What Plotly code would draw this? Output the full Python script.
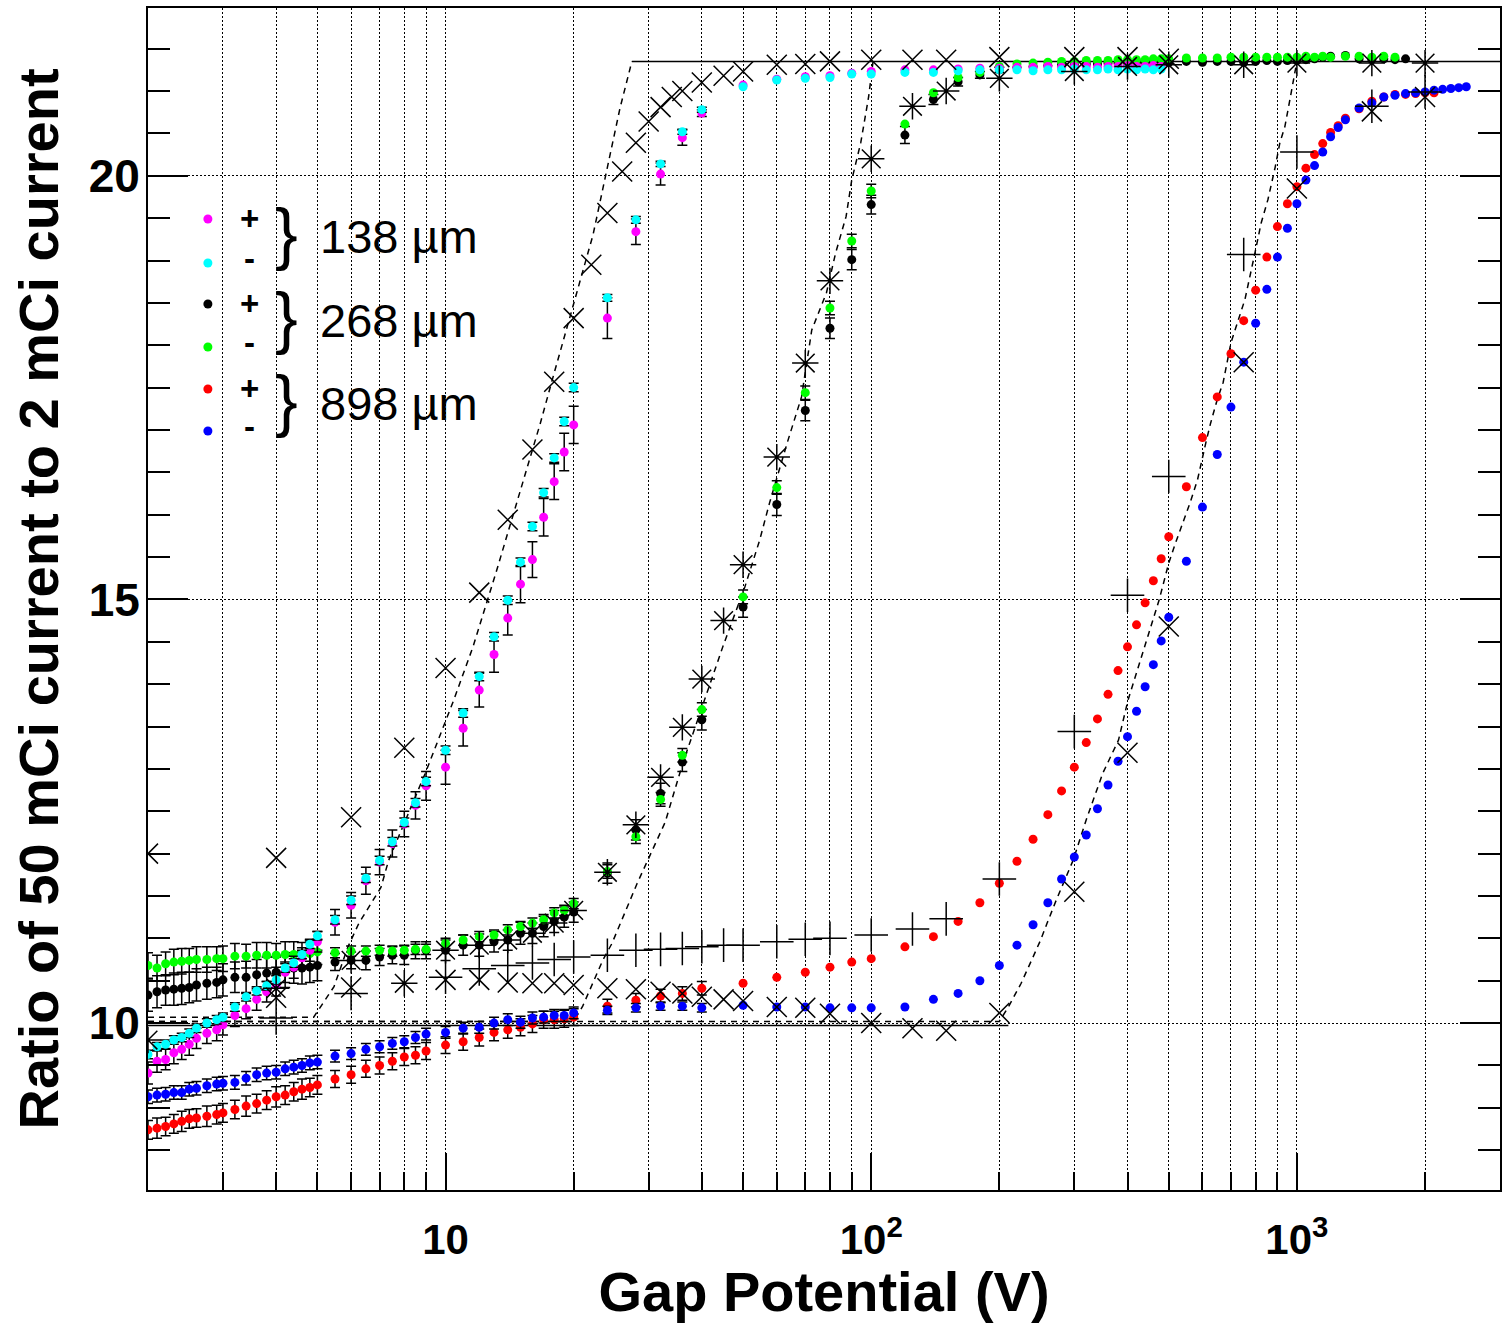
import math
import plotly.graph_objects as go

FONT = "Liberation Sans, Arial, sans-serif"

# ---------------- measured data ----------------
# 138 um gap (magenta = +, cyan = -)
V_138 = [2.0, 2.1, 2.2, 2.3, 2.4, 2.5, 2.6, 2.75, 2.9, 3.0,
         3.2, 3.4, 3.6, 3.8, 4.0, 4.2, 4.4, 4.6, 4.8, 5.0,
         5.5, 6.0, 6.5, 7.0, 7.5, 8.0, 8.5, 9.0,
         10, 11, 12, 13, 14, 15, 16, 17, 18, 19, 20,
         24, 28, 32, 36, 40,
         50, 60, 70, 80, 90, 100,
         120, 140, 160, 180, 200,
         220, 240, 260, 280, 300, 320, 340, 360, 380, 400, 420, 440, 460, 480]
MAG_138_PLUS = [9.41, 9.55, 9.57, 9.65, 9.69, 9.75, 9.82, 9.88, 9.92, 9.98,
                10.09, 10.17, 10.28, 10.37, 10.45, 10.60, 10.66, 10.77, 10.86, 10.96,
                11.19, 11.39, 11.68, 11.90, 12.12, 12.35, 12.57, 12.80,
                13.02, 13.48, 13.93, 14.35, 14.78, 15.18, 15.47, 15.97, 16.39, 16.74, 17.06,
                18.32, 19.34, 20.02, 20.45, 20.74,
                21.07, 21.14, 21.17, 21.18, 21.21, 21.23,
                21.25, 21.25, 21.26, 21.27, 21.27,
                21.28, 21.28, 21.29, 21.28, 21.29, 21.29, 21.28, 21.29, 21.29, 21.30, 21.29, 21.29, 21.30, 21.29]
MAG_138_PLUS_ERR = [0.13, 0.13, 0.12, 0.13, 0.12, 0.13, 0.12, 0.12, 0.13, 0.12,
                    0.13, 0.12, 0.13, 0.12, 0.13, 0.12, 0.13, 0.12, 0.13, 0.12,
                    0.15, 0.15, 0.16, 0.15, 0.16, 0.15, 0.16, 0.17,
                    0.20, 0.21, 0.20, 0.21, 0.20, 0.22, 0.21, 0.22, 0.21, 0.22, 0.22,
                    0.24, 0.15, 0.13, 0.09, 0.04]
CYA_138_MINUS = [9.63, 9.72, 9.75, 9.80, 9.83, 9.88, 9.94, 10.00, 10.04, 10.07,
                 10.19, 10.31, 10.38, 10.44, 10.51, 10.65, 10.71, 10.81, 10.93, 11.03,
                 11.22, 11.45, 11.71, 11.92, 12.14, 12.37, 12.60, 12.85,
                 13.22, 13.66, 14.09, 14.56, 14.99, 15.44, 15.86, 16.26, 16.67, 17.10, 17.50,
                 18.56, 19.48, 20.14, 20.52, 20.78,
                 21.05, 21.13, 21.15, 21.16, 21.20, 21.20,
                 21.22, 21.22, 21.24, 21.25, 21.25,
                 21.25, 21.24, 21.25, 21.25, 21.26, 21.25, 21.25, 21.26, 21.25, 21.26, 21.25, 21.26, 21.25, 21.26]
CYA_138_MINUS_ERR = [0.05, 0.05, 0.05, 0.05, 0.05, 0.05, 0.05, 0.05, 0.05, 0.05,
                     0.05, 0.05, 0.05, 0.05, 0.05, 0.05, 0.05, 0.05, 0.05, 0.05,
                     0.05, 0.05, 0.05, 0.05, 0.05, 0.05, 0.05, 0.05,
                     0.05, 0.05, 0.05, 0.05, 0.05, 0.05, 0.05, 0.05, 0.05, 0.05, 0.05,
                     0.04, 0.04, 0.03, 0.03, 0.03]

# 268 um gap (black = +, green = -)
V_268_PLUS = [2.0, 2.1, 2.2, 2.3, 2.4, 2.5, 2.6, 2.75, 2.9, 3.0,
              3.2, 3.4, 3.6, 3.8, 4.0, 4.2, 4.4, 4.6, 4.8, 5.0,
              5.5, 6.0, 6.5, 7.0, 7.5, 8.0, 8.5, 9.0,
              10, 11, 12, 13, 14, 15, 16, 17, 18, 19, 20,
              24, 28, 32, 36, 40,
              50, 60, 70, 80, 90, 100,
              120, 140, 160, 180, 200,
              220, 240, 260, 280, 300, 320, 340, 360, 380, 400, 420, 440, 460, 480,
              500, 550, 600, 650, 700, 750, 800, 850, 900, 950, 1000,
              1050, 1100, 1150, 1200, 1300, 1400, 1500, 1600, 1700, 1800]
BLK_268_PLUS = [10.33, 10.37, 10.39, 10.40, 10.41, 10.42, 10.45, 10.47, 10.48, 10.51,
                10.54, 10.54, 10.57, 10.59, 10.60, 10.61, 10.65, 10.65, 10.66, 10.68,
                10.72, 10.74, 10.74, 10.78, 10.80, 10.80, 10.86, 10.86,
                10.86, 10.92, 10.92, 10.96, 10.98, 11.06, 11.06, 11.14, 11.20, 11.25, 11.31,
                11.77, 12.28, 12.71, 13.08, 13.58,
                14.91, 16.12, 17.23, 18.20, 19.01, 19.66,
                20.48, 20.90, 21.11, 21.19, 21.25,
                21.28, 21.29, 21.30, 21.31, 21.31, 21.32, 21.32, 21.33, 21.33, 21.33, 21.34, 21.34, 21.34, 21.34,
                21.34, 21.35, 21.34, 21.35, 21.35, 21.34, 21.35, 21.36, 21.35, 21.36, 21.36,
                21.37, 21.38, 21.40, 21.41, 21.42, 21.38, 21.37, 21.38, 21.37, 21.38]
BLK_268_PLUS_ERR = [0.19, 0.19, 0.18, 0.19, 0.19, 0.18, 0.19, 0.19, 0.18, 0.19,
                    0.18, 0.19, 0.18, 0.19, 0.18, 0.19, 0.18, 0.19, 0.18, 0.18,
                    0.10, 0.10, 0.11, 0.10, 0.10, 0.11, 0.10, 0.10,
                    0.12, 0.12, 0.13, 0.12, 0.12, 0.13, 0.12, 0.12, 0.13, 0.12, 0.12,
                    0.12, 0.12, 0.12, 0.11, 0.12,
                    0.12, 0.13, 0.12, 0.12, 0.12, 0.11,
                    0.10, 0.06, 0.05, 0.04, 0.03]
V_268_MINUS = [2.0, 2.1, 2.2, 2.3, 2.4, 2.5, 2.6, 2.75, 2.9, 3.0,
               3.2, 3.4, 3.6, 3.8, 4.0, 4.2, 4.4, 4.6, 4.8, 5.0,
               5.5, 6.0, 6.5, 7.0, 7.5, 8.0, 8.5, 9.0,
               10, 11, 12, 13, 14, 15, 16, 17, 18, 19, 20,
               24, 28, 32, 36, 40,
               50, 60, 70, 80, 90, 100,
               120, 140, 160, 180, 200,
               220, 240, 260, 280, 300, 320, 340, 360, 380, 400, 420, 440, 460, 480,
               500, 550, 600, 650, 700, 750, 800, 850, 900, 950, 1000,
               1050, 1100, 1150, 1200, 1300, 1400, 1500, 1600, 1700]
GRN_268_MINUS = [10.68, 10.65, 10.70, 10.72, 10.73, 10.74, 10.75, 10.75, 10.76, 10.76,
                 10.79, 10.79, 10.80, 10.80, 10.80, 10.81, 10.81, 10.81, 10.82, 10.84,
                 10.83, 10.85, 10.85, 10.86, 10.85, 10.86, 10.87, 10.87,
                 10.94, 10.98, 11.02, 11.04, 11.10, 11.14, 11.18, 11.22, 11.30, 11.33, 11.41,
                 11.79, 12.20, 12.64, 13.16, 13.70,
                 15.03, 16.32, 17.44, 18.44, 19.23, 19.82,
                 20.61, 20.98, 21.16, 21.22, 21.29,
                 21.32, 21.33, 21.34, 21.35, 21.35, 21.36, 21.36, 21.36, 21.37, 21.37, 21.37, 21.37, 21.38, 21.38,
                 21.38, 21.39, 21.39, 21.39, 21.40, 21.40, 21.40, 21.40, 21.40, 21.40, 21.40,
                 21.41, 21.40, 21.41, 21.40, 21.41, 21.41, 21.40, 21.41, 21.40]
GRN_268_MINUS_ERR = [0.15, 0.15, 0.14, 0.15, 0.15, 0.14, 0.15, 0.15, 0.14, 0.15,
                     0.15, 0.14, 0.15, 0.15, 0.14, 0.15, 0.15, 0.14, 0.15, 0.15,
                     0.06, 0.06, 0.06, 0.06, 0.06, 0.06, 0.06, 0.06,
                     0.06, 0.06, 0.06, 0.06, 0.06, 0.06, 0.06, 0.06, 0.06, 0.06, 0.06,
                     0.08, 0.08, 0.08, 0.08, 0.08,
                     0.08, 0.08, 0.08, 0.08, 0.08, 0.08]

# 898 um gap (red = +, blue = -)
V_898_PLUS = [2.0, 2.1, 2.2, 2.3, 2.4, 2.5, 2.6, 2.75, 2.9, 3.0,
              3.2, 3.4, 3.6, 3.8, 4.0, 4.2, 4.4, 4.6, 4.8, 5.0,
              5.5, 6.0, 6.5, 7.0, 7.5, 8.0, 8.5, 9.0,
              10, 11, 12, 13, 14, 15, 16, 17, 18, 19, 20,
              24, 28, 32, 36, 40,
              50, 60, 70, 80, 90, 100,
              120, 140, 160, 180, 200,
              220, 240, 260, 280, 300, 320, 340, 360, 380, 400, 420, 440, 460, 480, 500,
              550, 600, 650, 700, 750, 800, 850, 900, 950, 1000,
              1050, 1100, 1150, 1200, 1250, 1300,
              1400, 1500, 1600, 1700, 1800, 1900, 2000, 2100]
RED_898_PLUS = [8.74, 8.76, 8.78, 8.81, 8.84, 8.87, 8.88, 8.90, 8.92, 8.94,
                8.98, 9.02, 9.05, 9.09, 9.13, 9.15, 9.19, 9.22, 9.24, 9.27,
                9.34, 9.39, 9.46, 9.50, 9.55, 9.60, 9.62, 9.67,
                9.74, 9.78, 9.83, 9.89, 9.92, 9.95, 9.99, 10.04, 10.04, 10.05, 10.07,
                10.20, 10.27, 10.32, 10.35, 10.41,
                10.47, 10.54, 10.60, 10.66, 10.72, 10.76,
                10.90, 11.02, 11.20, 11.42, 11.65,
                11.91, 12.17, 12.46, 12.74, 13.02, 13.31, 13.59, 13.88, 14.16, 14.44, 14.70, 14.96, 15.22, 15.48, 15.74,
                16.33, 16.91, 17.39, 17.90, 18.29, 18.65, 19.04, 19.40, 19.67, 19.87,
                20.09, 20.25, 20.38, 20.51, 20.59, 20.68,
                20.79, 20.88, 20.93, 20.96, 20.96, 20.97, 20.98, 20.98]
RED_898_PLUS_ERR = [0.11, 0.12, 0.11, 0.11, 0.12, 0.11, 0.11, 0.12, 0.11, 0.11,
                    0.11, 0.12, 0.11, 0.11, 0.12, 0.11, 0.11, 0.12, 0.11, 0.11,
                    0.10, 0.10, 0.10, 0.10, 0.10, 0.10, 0.10, 0.10,
                    0.10, 0.10, 0.10, 0.10, 0.10, 0.10, 0.10, 0.10, 0.10, 0.10, 0.10,
                    0.08, 0.08, 0.08, 0.08, 0.08]
V_898_MINUS = [2.0, 2.1, 2.2, 2.3, 2.4, 2.5, 2.6, 2.75, 2.9, 3.0,
               3.2, 3.4, 3.6, 3.8, 4.0, 4.2, 4.4, 4.6, 4.8, 5.0,
               5.5, 6.0, 6.5, 7.0, 7.5, 8.0, 8.5, 9.0,
               10, 11, 12, 13, 14, 15, 16, 17, 18, 19, 20,
               24, 28, 32, 36, 40,
               50, 60, 70, 80, 90, 100,
               120, 140, 160, 180, 200,
               220, 240, 260, 280, 300, 320, 340, 360, 380, 400, 420, 440, 460, 480, 500,
               550, 600, 650, 700, 750, 800, 850, 900, 950, 1000,
               1050, 1100, 1150, 1200, 1250, 1300,
               1400, 1500, 1600, 1700, 1800, 1900, 2000, 2100, 2200, 2300, 2400, 2500]
BLU_898_MINUS = [9.13, 9.15, 9.16, 9.18, 9.18, 9.22, 9.23, 9.26, 9.28, 9.29,
                 9.30, 9.35, 9.39, 9.41, 9.42, 9.46, 9.48, 9.50, 9.53, 9.54,
                 9.61, 9.64, 9.69, 9.72, 9.76, 9.78, 9.83, 9.87,
                 9.89, 9.94, 9.95, 10.00, 10.04, 10.01, 10.06, 10.07, 10.09, 10.09, 10.12,
                 10.15, 10.18, 10.20, 10.20, 10.18,
                 10.21, 10.19, 10.19, 10.18, 10.18, 10.18,
                 10.19, 10.28, 10.35, 10.50, 10.68,
                 10.92, 11.16, 11.42, 11.70, 11.96, 12.22, 12.53, 12.81, 13.09, 13.38, 13.68, 13.97, 14.23, 14.51, 14.79,
                 15.45, 16.09, 16.71, 17.27, 17.80, 18.26, 18.66, 19.04, 19.38, 19.67,
                 19.95, 20.12, 20.28, 20.46, 20.57, 20.66,
                 20.80, 20.86, 20.93, 20.95, 20.97, 20.98, 20.99, 21.01, 21.02, 21.03, 21.04, 21.05]
BLU_898_MINUS_ERR = [0.08, 0.08, 0.08, 0.08, 0.08, 0.08, 0.08, 0.08, 0.08, 0.08,
                     0.08, 0.08, 0.08, 0.08, 0.08, 0.08, 0.08, 0.08, 0.08, 0.08,
                     0.07, 0.07, 0.07, 0.07, 0.07, 0.07, 0.07, 0.07,
                     0.07, 0.07, 0.07, 0.07, 0.07, 0.07, 0.07, 0.07, 0.07, 0.07, 0.07,
                     0.05, 0.05, 0.05, 0.05, 0.05]

# ---------------- simulated points (black markers) ----------------
SIM_X_138_V = [2, 4, 6, 8, 10, 12, 14, 16, 18, 20, 22, 24, 26, 28, 30, 32, 34, 36, 40, 45,
               50, 60, 70, 80, 100, 125, 150, 200, 300, 400, 500]
SIM_X_138_Y = [12.00, 11.95, 12.43, 13.25, 14.19, 15.08, 15.94, 16.77, 17.57, 18.32, 18.95, 19.56,
               20.05, 20.39, 20.64, 20.81, 20.93, 21.00, 21.10, 21.18,
               21.23, 21.31, 21.32, 21.35, 21.37, 21.37, 21.37, 21.40, 21.40, 21.40, 21.38]
SIM_STAR_268_V = [2, 4, 6, 8, 10, 12, 14, 16, 18, 20, 24, 28, 32, 36, 40, 45, 50,
                  60, 70, 80, 100, 125, 150, 200, 300, 400, 500, 750, 1000, 1500, 2000]
SIM_STAR_268_Y = [9.80, 10.41, 10.74, 10.47, 10.86, 10.92, 10.98, 11.06, 11.18, 11.33,
                  11.78, 12.34, 12.90, 13.49, 14.06, 14.75, 15.41,
                  16.68, 17.79, 18.76, 20.20, 20.82, 21.00, 21.15,
                  21.23, 21.29, 21.31, 21.31, 21.33, 21.33, 21.33]
SIM_PLUS_898_V = [4, 6, 10, 12, 14, 16, 18, 20, 24, 28, 32, 36, 40, 45, 50,
                  60, 70, 80, 100, 125, 150, 200, 300, 400, 500, 750, 1000, 1500, 2000]
SIM_PLUS_898_Y = [10.06, 10.35, 10.54, 10.64, 10.68, 10.71, 10.75, 10.78,
                  10.80, 10.86, 10.87, 10.88, 10.90, 10.92, 10.92,
                  10.96, 10.99, 11.00, 11.04, 11.11, 11.23, 11.70,
                  13.44, 15.05, 16.45, 19.07, 20.28, 20.82, 20.99]
SIM_X_898_V = [4, 6, 10, 12, 14, 16, 18, 20, 24, 28, 32, 36, 40, 45, 50,
               60, 70, 80, 100, 125, 150, 200, 300, 400, 500, 750, 1000, 1500, 2000]
SIM_X_898_Y = [10.30, 10.42, 10.51, 10.51, 10.48, 10.47, 10.47, 10.45,
               10.41, 10.40, 10.37, 10.35, 10.31, 10.28, 10.26,
               10.19, 10.18, 10.11, 10.00, 9.94, 9.91, 10.12,
               11.55, 13.19, 14.68, 17.80, 19.85, 20.76, 20.93]

# ---------------- model curves ----------------
DASH_138_V = [2, 4.9, 5.47, 5.9, 6.26, 7.05, 7.35, 8.98, 10.45, 11.6, 13.2, 15.0, 16.7, 17.9,
              20.0, 22.2, 24.0, 25.7, 27.4]
DASH_138_Y = [10.07, 10.07, 10.43, 10.90, 11.18, 11.60, 11.92, 12.96, 13.81, 14.44, 15.35, 16.29,
              17.08, 17.63, 18.50, 19.30, 20.10, 20.80, 21.35]
DASH_268_V = [2, 20, 21, 23.4, 24.6, 28.2, 32.8, 36.1, 44.8, 50.5, 54.7, 57.7, 63.5, 68.6,
              72.5, 78.5, 82.5, 87.3, 90, 94.5, 98.6, 101]
DASH_268_Y = [10.02, 10.02, 10.20, 10.74, 10.94, 11.65, 12.37, 13.07, 14.44, 15.15, 15.70, 16.14,
              16.85, 17.39, 18.18, 18.62, 19.09, 19.52, 19.95, 20.39, 20.93, 21.35]
DASH_898_V = [2, 200, 210, 225, 238, 250, 259, 272, 298, 320, 350, 381, 401, 438, 460, 475, 500,
              519, 561, 584, 613, 627, 650, 671, 700, 755, 797, 824, 855, 889, 912, 937, 963, 980, 1000]
DASH_898_Y = [10.02, 10.02, 10.19, 10.47, 10.74, 10.98, 11.18, 11.45, 11.92, 12.40, 12.95, 13.34,
              13.81, 14.44, 14.76, 15.00, 15.43, 15.67, 16.14, 16.41, 16.88, 17.08, 17.36, 17.56,
              18.03, 18.54, 19.09, 19.44, 19.72, 20.10, 20.39, 20.58, 20.90, 21.10, 21.35]
FLOOR_V = [2, 210]
FLOOR_Y = [9.97, 9.97]
CEIL_V = [27.4, 3000]
CEIL_Y = [21.35, 21.35]

# legend
LEG_COLORS = ["#ff00ff", "#00ffff", "#000000", "#00ff00", "#ff0000", "#0000ff"]
LEG_SIGNS = ["+", "-", "+", "-", "+", "-"]
LEG_GAPS = ["138 µm", "268 µm", "898 µm"]

# ---------------- figure ----------------
fig = go.Figure()

def add_line(xv, yv, dash):
    fig.add_trace(go.Scatter(x=xv, y=yv, mode="lines",
                             line=dict(color="black", width=1.5, dash=dash),
                             hoverinfo="skip"))

add_line(FLOOR_V, FLOOR_Y, "solid")
add_line(CEIL_V, CEIL_Y, "solid")
add_line(DASH_138_V, DASH_138_Y, "6px,5px")
add_line(DASH_268_V, DASH_268_Y, "6px,5px")
add_line(DASH_898_V, DASH_898_Y, "6px,5px")

def add_data(xv, yv, err, color):
    fig.add_trace(go.Scatter(
        x=xv, y=yv, mode="markers",
        marker=dict(symbol="circle", size=9, color=color, line=dict(width=0)),
        error_y=dict(type="data", array=err, visible=True, color="black",
                     thickness=1.5, width=5)))

add_data(V_898_PLUS, RED_898_PLUS, RED_898_PLUS_ERR, "#ff0000")
add_data(V_898_MINUS, BLU_898_MINUS, BLU_898_MINUS_ERR, "#0000ff")
add_data(V_268_PLUS, BLK_268_PLUS, BLK_268_PLUS_ERR, "#000000")
add_data(V_268_MINUS, GRN_268_MINUS, GRN_268_MINUS_ERR, "#00ff00")
add_data(V_138, MAG_138_PLUS, MAG_138_PLUS_ERR, "#ff00ff")
add_data(V_138, CYA_138_MINUS, CYA_138_MINUS_ERR, "#00ffff")

def add_sim(xv, yv, symbol, size):
    fig.add_trace(go.Scatter(
        x=xv, y=yv, mode="markers",
        marker=dict(symbol=symbol, size=size, color="black",
                    line=dict(color="black", width=1.5))))

add_sim(SIM_X_138_V, SIM_X_138_Y, "x-thin-open", 20)
add_sim(SIM_STAR_268_V, SIM_STAR_268_Y, "asterisk-open", 22)
add_sim(SIM_PLUS_898_V, SIM_PLUS_898_Y, "cross-thin-open", 24)
add_sim(SIM_X_898_V, SIM_X_898_Y, "x-thin-open", 20)

# legend markers on an overlay (paper-like) axis
LEG_X = [0.0443] * 6
LEG_Y = [0.8215, 0.7843, 0.7496, 0.7132, 0.6777, 0.6421]
fig.add_trace(go.Scatter(x=LEG_X, y=LEG_Y, mode="markers", xaxis="x2", yaxis="y2",
                         marker=dict(symbol="circle", size=9, color=LEG_COLORS, line=dict(width=0)),
                         hoverinfo="skip"))

annotations = []
for sgn, yy in zip(LEG_SIGNS, LEG_Y):
    annotations.append(dict(x=0.0753, y=yy + (0.004 if sgn == "-" else 0.0), xref="paper", yref="paper",
                            text=sgn, showarrow=False, xanchor="center", yanchor="middle",
                            font=dict(family=FONT, size=33, color="black", weight="bold")))
for gap, yb in zip(LEG_GAPS, [0.8096, 0.7386, 0.6684]):
    annotations.append(dict(x=0.1027, y=yb, xref="paper", yref="paper", text="}",
                            showarrow=False, xanchor="center", yanchor="middle",
                            font=dict(family=FONT, size=68, color="black")))
    annotations.append(dict(x=0.1256, y=yb - 0.003, xref="paper", yref="paper", text=gap,
                            showarrow=False, xanchor="left", yanchor="middle",
                            font=dict(family=FONT, size=47, color="black")))

GRID = dict(showgrid=True, gridcolor="black", gridwidth=1, griddash="2px,2px")

fig.update_layout(
    width=1504, height=1323,
    margin=dict(l=148, r=2, t=8, b=133),
    paper_bgcolor="white", plot_bgcolor="white",
    showlegend=False,
    annotations=annotations,
    xaxis=dict(
        type="log", range=[math.log10(2), math.log10(3000)],
        showline=True, linecolor="black", linewidth=2, mirror=True, zeroline=False,
        ticks="inside", ticklen=37, tickwidth=1.5, tickcolor="black",
        tickmode="array", tickvals=[10, 100, 1000],
        ticktext=["10", "10<sup>2</sup>", "10<sup>3</sup>"],
        tickfont=dict(family=FONT, size=42, color="black", weight="bold"),
        ticklabelstandoff=12,
        minor=dict(tickmode="array",
                   tickvals=[3, 4, 5, 6, 7, 8, 9, 20, 30, 40, 50, 60, 70, 80, 90,
                             200, 300, 400, 500, 600, 700, 800, 900, 2000],
                   ticks="inside", ticklen=18, tickwidth=1.5, tickcolor="black",
                   showgrid=True, gridcolor="black", gridwidth=1, griddash="2px,2px"),
        title=dict(text="Gap Potential (V)", standoff=4,
                   font=dict(family=FONT, size=56, color="black", weight="bold")),
        **GRID,
    ),
    yaxis=dict(
        range=[8.03, 21.98],
        showline=True, linecolor="black", linewidth=2, mirror="ticks", zeroline=False,
        ticks="inside", ticklen=40, tickwidth=1.5, tickcolor="black",
        tickmode="linear", tick0=0, dtick=5,
        tickfont=dict(family=FONT, size=46, color="black", weight="bold"),
        ticklabelstandoff=-3,
        minor=dict(tickmode="linear", tick0=0, dtick=0.5, ticks="inside", ticklen=22,
                   tickwidth=1.5, tickcolor="black", showgrid=False),
        title=dict(text="Ratio of 50 mCi current to 2 mCi current", standoff=12,
                   font=dict(family=FONT, size=56, color="black", weight="bold")),
        **GRID,
    ),
    xaxis2=dict(overlaying="x", range=[0, 1], visible=False, anchor="y2"),
    yaxis2=dict(overlaying="y", range=[0, 1], visible=False, anchor="x2"),
)

fig.write_html("out.html")
